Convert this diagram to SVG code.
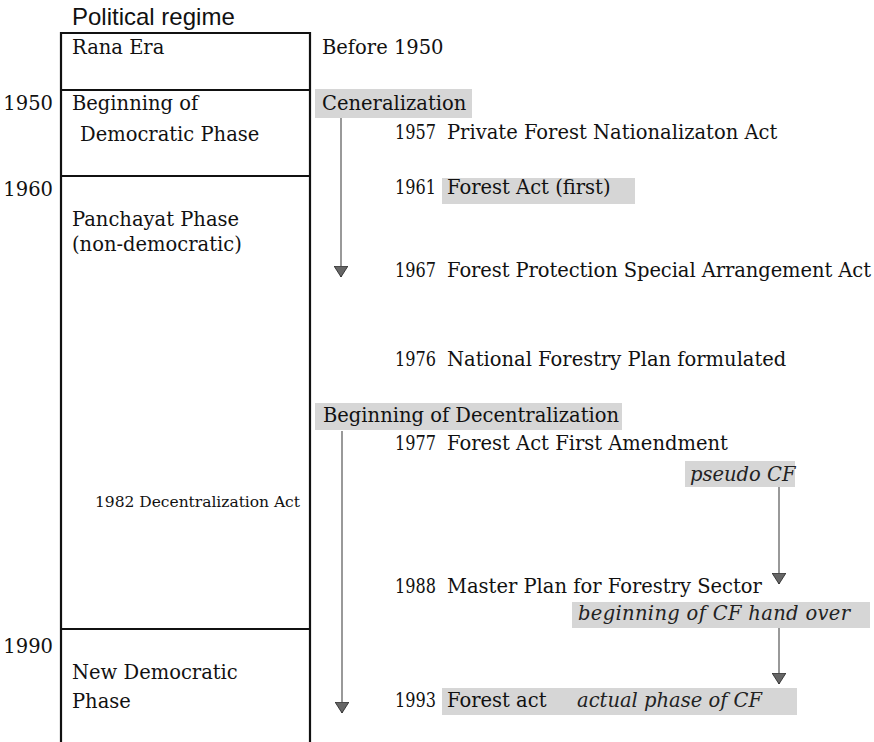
<svg xmlns="http://www.w3.org/2000/svg" width="874" height="742" viewBox="0 0 874 742">
<style>
.t{font-family:"DejaVu Serif","Liberation Serif",serif;font-size:19.5px;fill:#111}
.i{font-family:"DejaVu Serif","Liberation Serif",serif;font-size:19.5px;font-style:italic;fill:#222}
.s{font-family:"DejaVu Serif","Liberation Serif",serif;font-size:15.5px;fill:#111}
.h{fill:#d6d6d6}
.box{fill:none;stroke:#111;stroke-width:2.2}
.div{stroke:#111;stroke-width:2.2}
.c{stroke:#555;stroke-width:1.2;fill:none;marker-end:url(#ah)}
</style>
<defs>
<marker id="ah" markerUnits="userSpaceOnUse" viewBox="0 0 11 14" refX="11" refY="7" markerWidth="11" markerHeight="14" orient="auto">
<path d="M0,0 L11,7 L0,14 z" fill="#666" stroke="#222" stroke-width="0.8"/>
</marker>
</defs>
<rect width="874" height="742" fill="#fff"/>
<text x="72" y="25" style="font-family:'Liberation Sans',Arial,sans-serif;font-size:24px;fill:#111">Political regime</text>

<g id="regime-frame">
<path class="box" d="M61,742 V33 H310 V742"/>
</g>
<g id="rana-era">
<text class="t" x="72" y="54">Rana Era</text>
</g>
<g id="democratic-phase">
<line class="div" x1="61" y1="90" x2="310" y2="90"/>
<text class="t" x="72" y="110">Beginning of</text>
<text class="t" x="80" y="141">Democratic Phase</text>
</g>
<g id="panchayat-phase">
<line class="div" x1="61" y1="176" x2="310" y2="176"/>
<text class="t" x="72" y="226">Panchayat Phase</text>
<text class="t" x="72" y="251">(non-democratic)</text>
<text class="s" x="95" y="507" textLength="205">1982 Decentralization Act</text>
</g>
<g id="new-democratic-phase">
<line class="div" x1="61" y1="629" x2="310" y2="629"/>
<text class="t" x="72" y="679">New Democratic</text>
<text class="t" x="72" y="708">Phase</text>
</g>

<g id="year-labels">
<text class="t" x="53" y="110" text-anchor="end">1950</text>
<text class="t" x="53" y="196" text-anchor="end">1960</text>
<text class="t" x="53" y="653" text-anchor="end">1990</text>
</g>

<g id="before-1950">
<text class="t" x="322" y="54">Before 1950</text>
</g>
<g id="centralization">
<rect class="h" x="315" y="89" width="157" height="29"/>
<text class="t" x="322" y="110">Ceneralization</text>
</g>
<g id="ev-1957">
<text class="t" y="139"><tspan x="395" textLength="41" lengthAdjust="spacingAndGlyphs">1957</tspan><tspan x="447">Private Forest Nationalizaton Act</tspan></text>
</g>
<g id="ev-1961">
<rect class="h" x="442" y="178" width="193" height="26"/>
<text class="t" y="194"><tspan x="395" textLength="41" lengthAdjust="spacingAndGlyphs">1961</tspan><tspan x="447">Forest Act (first)</tspan></text>
</g>
<g id="ev-1967">
<text class="t" y="277"><tspan x="395" textLength="41" lengthAdjust="spacingAndGlyphs">1967</tspan><tspan x="447" textLength="424">Forest Protection Special Arrangement Act</tspan></text>
</g>
<g id="ev-1976">
<text class="t" y="366"><tspan x="395" textLength="41" lengthAdjust="spacingAndGlyphs">1976</tspan><tspan x="447">National Forestry Plan formulated</tspan></text>
</g>
<g id="decentralization">
<rect class="h" x="315" y="403" width="307" height="27"/>
<text class="t" x="323" y="422">Beginning of Decentralization</text>
</g>
<g id="ev-1977">
<text class="t" y="450"><tspan x="395" textLength="41" lengthAdjust="spacingAndGlyphs">1977</tspan><tspan x="447">Forest Act First Amendment</tspan></text>
</g>
<g id="pseudo-cf">
<rect class="h" x="685" y="461" width="110" height="26"/>
<text class="i" x="690" y="481">pseudo CF</text>
</g>
<g id="ev-1988">
<text class="t" y="593"><tspan x="395" textLength="41" lengthAdjust="spacingAndGlyphs">1988</tspan><tspan x="447">Master Plan for Forestry Sector</tspan></text>
</g>
<g id="cf-handover">
<rect class="h" x="572" y="602" width="298" height="26"/>
<text class="i" x="578" y="620" textLength="272">beginning of CF hand over</text>
</g>
<g id="ev-1993">
<rect class="h" x="442" y="688" width="355" height="27"/>
<text class="t" y="707"><tspan x="395" textLength="41" lengthAdjust="spacingAndGlyphs">1993</tspan><tspan x="447">Forest act</tspan></text>
<text class="i" x="577" y="707">actual phase of CF</text>
</g>

<g id="connectors">
<line class="c" x1="341" y1="118" x2="341" y2="277"/>
<line class="c" x1="342" y1="431" x2="342" y2="713"/>
<line class="c" x1="779" y1="487" x2="779" y2="584"/>
<line class="c" x1="779" y1="628" x2="779" y2="684"/>
</g>
</svg>
